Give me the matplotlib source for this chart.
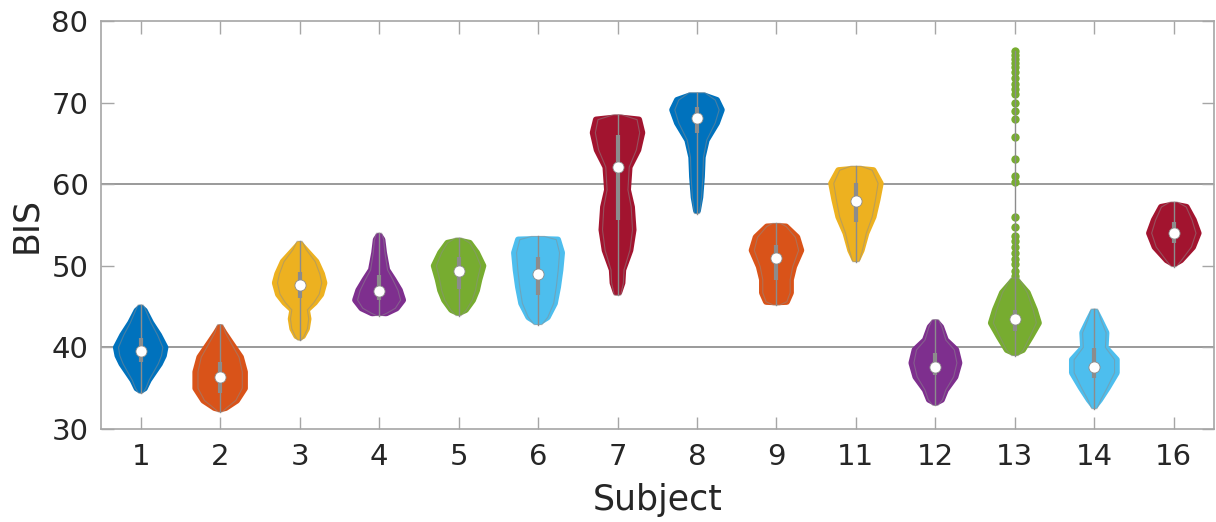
import numpy as np
import matplotlib
matplotlib.use('Agg')
import matplotlib.pyplot as plt
from matplotlib.patches import Polygon

subjects = ['1', '2', '3', '4', '5', '6', '7', '8', '9', '11', '12', '13', '14', '16']

# MATLAB default colour order
colors = ['#0072BD', '#D95319', '#EDB120', '#7E2F8E', '#77AC30', '#4DBEEE', '#A2142F']

# Envelope of each swarm: BIS levels and half widths (x units)
prof_y = [
    [45.2, 44.5, 43.0, 41.5, 40.0, 39.0, 38.0, 37.0, 36.0, 35.0, 34.4],
    [42.8, 41.8, 40.5, 38.8, 37.0, 35.0, 33.5, 32.6, 32.1],
    [53.0, 52.0, 50.5, 49.0, 47.9, 46.5, 45.5, 44.6, 43.5, 42.3, 41.4, 40.9],
    [54.0, 53.2, 51.6, 49.5, 48.3, 47.0, 45.8, 44.8, 44.2, 43.9],
    [53.4, 52.8, 51.6, 50.0, 48.3, 47.0, 45.8, 44.6, 43.9],
    [53.6, 53.2, 51.6, 49.5, 47.4, 45.4, 43.7, 42.8],
    [68.5, 67.9, 66.3, 64.2, 62.1, 59.3, 57.2, 54.4, 51.9, 49.5, 47.9, 46.4],
    [71.2, 70.3, 69.1, 67.5, 65.4, 63.3, 60.9, 58.4, 56.4],
    [55.2, 54.8, 53.5, 51.9, 49.9, 48.3, 46.7, 45.6, 45.2],
    [62.2, 61.7, 60.1, 58.1, 56.0, 54.0, 51.9, 50.5],
    [43.4, 42.5, 40.9, 39.7, 38.1, 36.4, 34.8, 33.6, 32.9],
    [48.5, 46.7, 44.6, 43.0, 41.3, 39.7, 39.0],
    [44.7, 43.4, 41.8, 40.0, 38.5, 36.9, 35.1, 33.6, 32.5],
    [57.8, 57.2, 55.6, 54.0, 52.3, 50.7, 49.9],
]
prof_w = [
    [0.04, 0.08, 0.16, 0.26, 0.34, 0.32, 0.27, 0.20, 0.13, 0.08, 0.03],
    [0.04, 0.08, 0.17, 0.29, 0.34, 0.34, 0.24, 0.10, 0.03],
    [0.04, 0.10, 0.24, 0.31, 0.34, 0.30, 0.22, 0.12, 0.14, 0.12, 0.07, 0.03],
    [0.04, 0.07, 0.09, 0.13, 0.21, 0.29, 0.33, 0.25, 0.12, 0.04],
    [0.05, 0.17, 0.26, 0.34, 0.29, 0.26, 0.21, 0.12, 0.04],
    [0.10, 0.28, 0.33, 0.31, 0.28, 0.24, 0.15, 0.06],
    [0.06, 0.30, 0.34, 0.29, 0.18, 0.16, 0.21, 0.23, 0.19, 0.10, 0.09, 0.05],
    [0.12, 0.28, 0.34, 0.28, 0.15, 0.10, 0.09, 0.07, 0.04],
    [0.06, 0.15, 0.29, 0.34, 0.25, 0.21, 0.21, 0.16, 0.05],
    [0.08, 0.25, 0.34, 0.30, 0.25, 0.16, 0.10, 0.05],
    [0.05, 0.10, 0.16, 0.29, 0.33, 0.28, 0.16, 0.11, 0.04],
    [0.06, 0.19, 0.28, 0.33, 0.23, 0.13, 0.05],
    [0.05, 0.10, 0.18, 0.17, 0.31, 0.31, 0.20, 0.10, 0.04],
    [0.06, 0.19, 0.28, 0.34, 0.27, 0.12, 0.04],
]

medians = [39.6, 36.4, 47.6, 46.9, 49.4, 49.0, 62.1, 68.1, 51.0, 57.9, 37.6, 43.5, 37.6, 54.0]
q1 = [38.2, 34.4, 46.0, 45.8, 47.2, 46.4, 55.6, 66.3, 48.3, 55.4, 36.6, 42.0, 36.2, 52.8]
q3 = [41.2, 38.2, 49.3, 48.9, 51.1, 51.1, 66.0, 69.5, 52.5, 60.1, 39.3, 44.6, 39.9, 55.4]

# subject 13: isolated high readings above the main swarm
s13_tail = [76.3, 75.8, 75.3, 74.9, 74.3, 73.7, 73.0, 72.3, 71.7, 71.0, 70.0, 69.0,
            68.0, 65.8, 63.1, 61.0, 60.3, 56.0, 54.8, 53.7, 53.0, 52.3, 51.6,
            50.8, 50.2, 49.4, 48.8]

fig = plt.figure(figsize=(12.16, 5.22), dpi=100)
ax = fig.add_axes([0.083, 0.178, 0.915, 0.782])

ax.axhline(40, color='#7f7f7f', lw=1.1, zorder=1)
ax.axhline(60, color='#7f7f7f', lw=1.1, zorder=1)

for i, s in enumerate(subjects):
    pos = i + 1
    c = colors[i % len(colors)]
    y = np.array(prof_y[i], dtype=float)
    w = np.clip(np.array(prof_w[i]) - 0.03, 0.008, None)
    y[0] -= 0.35
    y[-1] += 0.35
    verts = np.vstack([np.column_stack([pos + w, y]),
                       np.column_stack([pos - w[::-1], y[::-1]])])
    ax.add_patch(Polygon(verts, closed=True, fc=c, ec=c, lw=4.5,
                         joinstyle='round', zorder=2))
    # violin outline
    wo = np.array(prof_w[i]) * 0.82
    yo = np.array(prof_y[i], dtype=float)
    ov = np.vstack([np.column_stack([pos + wo, yo]),
                    np.column_stack([pos - wo[::-1], yo[::-1]])])
    ax.add_patch(Polygon(ov, closed=True, fill=False, ec='#8c8c8c', lw=0.8,
                         alpha=0.5, zorder=3))
    top = max(prof_y[i])
    if s == '13':
        ax.scatter(np.full(len(s13_tail), pos), s13_tail, s=36, color=c,
                   lw=0, zorder=2)
        top = max(s13_tail)
    ax.plot([pos, pos], [min(prof_y[i]), top], color='#8c8c8c', lw=1.0, zorder=4)
    ax.plot([pos, pos], [q1[i], q3[i]], color='#8c8c8c', lw=3.0,
            solid_capstyle='butt', zorder=4)
    ax.plot(pos, medians[i], 'o', ms=8, mfc='white', mec='#8c8c8c', mew=0.6,
            zorder=5)

ax.set_xlim(0.5, len(subjects) + 0.5)
ax.set_ylim(30, 80)
ax.set_xticks(range(1, len(subjects) + 1))
ax.set_xticklabels(subjects)
ax.set_yticks([30, 40, 50, 60, 70, 80])
ax.tick_params(direction='in', length=9, width=1, color='#a6a6a6',
               labelsize=21, labelcolor='#262626', pad=10,
               top=True, right=True)
ax.tick_params(axis='y', pad=9)
for sp in ax.spines.values():
    sp.set_color('#a6a6a6')
    sp.set_linewidth(1.2)
ax.set_xlabel('Subject', fontsize=25, color='#262626', labelpad=9)
ax.set_ylabel('BIS', fontsize=25, color='#262626', labelpad=6)

fig.savefig('out.png', dpi=100)
